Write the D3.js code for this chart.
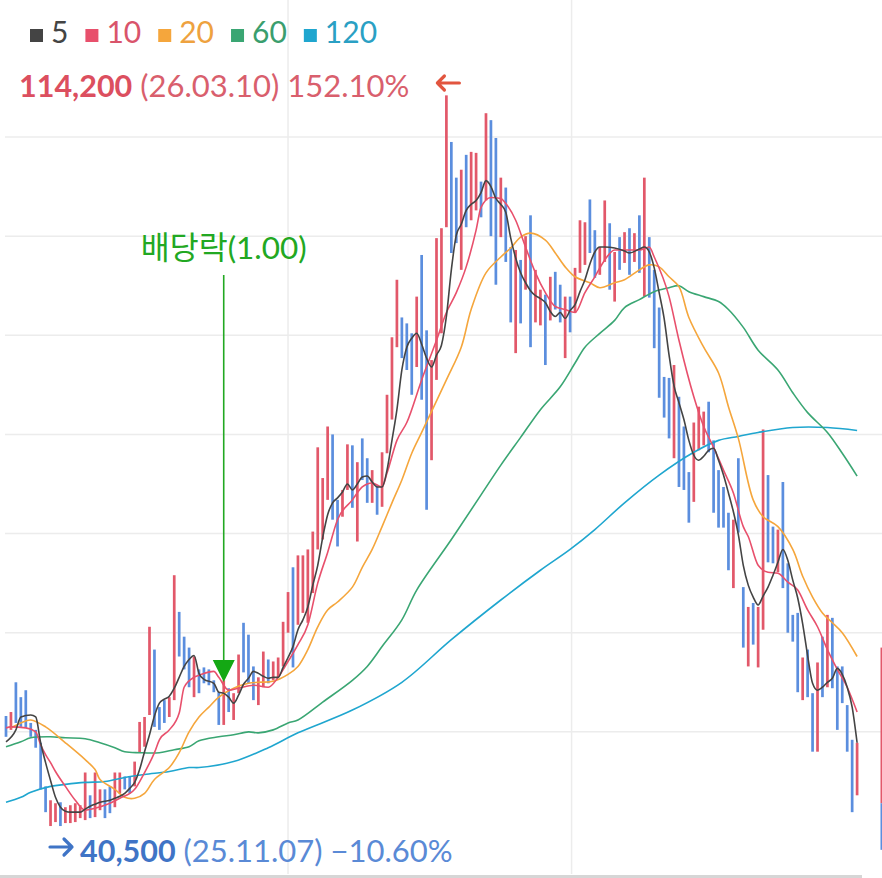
<!DOCTYPE html>
<html><head><meta charset="utf-8">
<script src="https://cdn.jsdelivr.net/npm/d3@7/dist/d3.min.js"></script>
<style>html,body{margin:0;padding:0;background:#fff;}svg{display:block;}</style>
</head><body>
<svg id="c" width="882" height="878"></svg>
<script>
// prices in thousands of won
const opens = [51.6,50.2,55.0,53.5,54.2,50.9,50.2,48.9,44.5,40.5,40.9,42.9,40.8,40.8,40.9,41.3,41.1,43.6,41.4,42.1,
44.2,44.5,42.4,43.8,45.5,45.5,44.5,47.9,48.5,51.7,58.3,52.5,53.2,51.5,53.2,62.1,59.6,58.5,53.5,56.3,
56.5,56.3,55.2,54.0,50.7,54.4,51.2,53.9,61.0,59.8,56.6,52.7,54.5,57.3,55.2,55.5,56.6,60.0,66.6,60.8,
62.0,61.0,64.0,68.4,69.4,73.4,80.0,73.4,71.7,74.4,78.9,69.2,79.6,77.6,73.1,74.9,72.7,78.1,81.5,88.8,
91.8,91.2,90.2,86.8,98.1,90.5,77.4,85.5,90.2,100.9,109.5,105.9,96.6,108.2,101.6,102.6,105.5,103.6,111.7,109.9,
99.9,104.9,98.9,88.2,97.6,94.6,102.1,91.3,91.0,94.1,91.5,96.4,95.1,87.7,93.9,92.3,96.3,97.1,103.7,100.6,
96.1,97.4,101.3,93.4,99.9,97.3,100.8,97.4,102.1,93.9,99.9,96.6,92.8,85.8,85.7,77.6,83.8,80.8,76.2,73.2,
78.4,78.9,83.3,79.4,76.4,74.7,72.1,64.5,77.6,64.6,56.6,63.0,56.5,60.3,75.9,70.7,66.1,75.2,67.0,61.8,
62.0,53.2,58.3,53.9,48.0,59.6,54.5,61.5,56.6,56.6,52.7,49.2,43.6];
const closes = [49.5,52.0,50.9,50.5,50.4,49.5,48.4,44.2,41.9,43.1,42.8,40.5,42.4,42.6,42.8,42.6,45.9,41.3,45.9,44.2,
41.3,41.8,45.9,45.9,44.2,43.8,47.0,51.0,51.5,60.6,50.5,50.2,50.9,53.5,65.8,57.6,56.3,54.5,57.6,53.9,
54.9,54.7,54.0,50.7,55.2,52.0,53.9,57.8,56.0,54.9,53.2,55.5,58.1,54.9,57.1,57.5,61.1,64.1,56.5,67.8,
67.8,68.4,70.2,78.7,75.6,80.8,71.4,68.7,74.4,79.0,72.6,77.2,75.4,73.1,76.4,71.9,78.2,84.0,89.8,95.6,
87.7,86.5,84.0,93.9,83.5,72.4,87.5,99.8,100.8,114.2,98.3,99.3,106.7,100.9,108.5,108.4,101.9,112.4,100.0,95.1,
105.9,97.4,91.3,98.6,91.2,100.0,88.8,96.6,94.6,87.0,95.9,92.6,91.3,93.9,90.3,96.8,101.6,101.4,98.3,95.8,
98.9,103.6,94.6,98.4,96.6,100.4,96.1,100.3,96.3,105.9,93.8,88.7,83.7,81.7,79.6,87.0,74.7,74.4,71.1,81.2,
82.8,82.3,78.2,72.1,70.6,70.6,66.3,71.4,70.1,58.5,62.6,58.8,62.6,80.5,67.1,67.0,70.4,64.5,60.0,59.1,
54.0,57.5,53.5,48.0,57.0,53.5,61.8,54.4,50.2,52.9,48.0,41.9,48.9];
// partially visible bar at the right edge [index, top, split, bottom]
const edgeBar = [177, 58.5, 42.8, 38.1];

const ma5 = [[0,49.0],[2,50.2],[3,51.5],[5,51.7],[6,51.5],[7,48.9],[8,46.9],[9,45.1],[10,43.4],[11,42.4],[12,42.0],[13,41.9],[15,41.9],[16,42.2],[17,42.5],[18,42.7],[19,42.9],[21,43.1],[22,43.3],[23,43.5],[24,43.8],[25,44.3],[26,44.9],[27,46.2],[28,48.0],[29,49.7],[30,51.6],[31,52.9],[32,53.3],[33,53.6],[34,54.4],[35,55.5],[36,56.6],[37,57.3],[38,57.7],[39,55.9],[40,55.3],[42,54.9],[43,54.0],[44,53.9],[45,53.5],[46,52.9],[47,53.7],[48,54.8],[49,55.4],[50,56.1],[51,55.9],[52,55.6],[53,55.4],[54,55.5],[55,55.5],[56,56.5],[57,57.5],[58,58.6],[59,60.3],[60,61.3],[61,62.6],[62,64.8],[63,66.8],[64,69.6],[65,71.9],[66,73.1],[67,73.6],[68,74.2],[69,75.0],[70,74.4],[71,75.0],[72,75.7],[73,75.8],[74,75.2],[75,74.7],[76,74.7],[77,76.4],[78,79.4],[79,82.5],[80,86.5],[81,88.8],[82,89.7],[83,90.2],[84,89.1],[85,87.7],[86,86.8],[87,88.0],[88,89.0],[89,91.9],[90,96.6],[91,100.1],[92,101.2],[93,102.6],[94,103.2],[95,103.6],[96,104.4],[97,105.6],[98,105.0],[99,103.8],[100,103.2],[101,102.4],[102,99.8],[103,97.8],[104,96.3],[105,95.3],[106,94.5],[107,94.0],[108,93.7],[109,93.3],[110,92.4],[111,91.9],[112,92.3],[113,91.7],[114,92.5],[115,93.1],[116,94.4],[117,95.6],[118,97.2],[119,98.4],[120,98.9],[121,98.9],[123,98.8],[125,98.5],[126,98.3],[128,98.7],[129,98.9],[130,98.4],[131,96.8],[132,94.3],[133,91.7],[134,88.0],[135,84.9],[136,83.2],[137,81.5],[138,79.4],[139,77.9],[140,77.4],[141,77.8],[142,78.4],[143,78.6],[144,77.4],[145,75.9],[146,74.1],[147,72.2],[148,69.9],[149,66.8],[150,64.8],[151,63.6],[152,62.8],[153,63.7],[154,64.6],[155,65.8],[156,67.1],[157,68.4],[158,67.3],[159,65.3],[160,63.5],[161,60.9],[162,57.7],[163,54.9],[164,54.2],[165,54.5],[166,55.0],[167,55.4],[168,56.4],[169,55.8],[170,54.5],[171,52.5],[172,48.9]];
const ma10 = [[0,50.4],[1,50.5],[4,50.4],[6,50.0],[7,48.7],[8,47.7],[9,46.9],[10,46.0],[12,44.5],[14,43.1],[16,42.1],[18,42.3],[21,42.8],[23,43.3],[26,44.2],[28,45.9],[30,47.9],[31,49.2],[33,50.2],[35,51.9],[36,54.5],[38,55.5],[39,55.7],[42,56.1],[43,55.5],[45,54.2],[47,54.4],[50,54.7],[53,54.5],[55,55.5],[57,57.1],[59,58.8],[61,60.8],[63,65.0],[65,68.1],[67,71.4],[70,73.4],[72,74.7],[74,75.1],[76,74.7],[77,76.1],[79,79.4],[81,81.2],[84,85.5],[87,89.5],[89,92.3],[91,94.3],[93,96.9],[95,100.6],[96,102.9],[98,103.9],[100,103.8],[101,103.3],[103,101.6],[105,98.9],[107,96.3],[109,94.3],[111,92.9],[113,92.6],[115,92.3],[117,94.3],[119,95.9],[121,97.6],[123,98.6],[125,98.6],[128,98.6],[130,98.9],[131,97.9],[134,93.9],[136,89.5],[139,83.8],[141,80.8],[143,78.7],[145,76.4],[147,74.1],[149,70.7],[150,69.7],[152,66.8],[154,66.1],[156,66.0],[158,65.1],[160,64.3],[162,62.3],[164,60.6],[166,58.3],[168,56.3],[170,54.5],[172,52.0]];
const ma20 = [[1,50.4],[3,50.9],[5,51.2],[8,50.5],[12,48.9],[16,47.2],[18,46.2],[19,45.2],[22,44.2],[24,43.4],[26,43.3],[28,43.8],[30,45.2],[33,46.4],[35,47.9],[37,50.0],[39,51.5],[41,52.5],[43,53.5],[46,54.4],[49,54.9],[51,55.0],[54,55.1],[57,55.8],[59,56.6],[61,58.3],[63,60.6],[65,62.3],[67,63.1],[70,64.6],[72,66.6],[74,68.4],[76,70.7],[78,73.1],[80,75.4],[82,78.1],[84,80.2],[89,85.5],[92,88.8],[94,92.6],[97,96.3],[100,97.9],[102,98.8],[104,99.9],[106,100.3],[109,99.6],[111,98.3],[113,96.9],[115,95.9],[118,95.3],[120,94.8],[123,95.3],[125,95.6],[128,96.6],[130,97.1],[132,96.9],[134,95.9],[136,94.9],[138,91.8],[141,88.8],[144,86.2],[146,82.8],[148,79.6],[151,73.4],[153,71.7],[156,70.7],[159,68.4],[161,65.7],[163,63.6],[165,62.0],[167,61.0],[169,60.0],[172,57.6]];
const ma60 = [[0,48.5],[3,49.0],[5,49.4],[9,49.5],[12,49.4],[16,49.3],[19,48.9],[22,48.4],[24,48.0],[27,47.9],[31,47.9],[34,48.2],[37,48.5],[39,49.1],[43,49.5],[46,49.7],[49,50.0],[51,49.9],[54,50.2],[57,50.9],[59,51.2],[64,53.0],[70,55.2],[73,56.6],[76,58.6],[80,61.3],[83,64.3],[90,69.4],[96,73.9],[100,76.9],[104,79.7],[108,82.5],[112,84.8],[115,87.2],[117,88.8],[120,90.2],[123,91.5],[125,92.8],[128,93.6],[131,94.4],[134,94.8],[136,95.0],[138,94.4],[141,93.9],[144,93.4],[146,92.6],[149,90.8],[152,88.5],[156,86.5],[159,84.2],[162,82.2],[166,80.2],[169,78.1],[172,75.8]];
const ma120 = [[0,42.9],[3,43.4],[5,43.9],[9,44.5],[12,44.7],[16,44.9],[20,45.0],[24,45.4],[28,45.7],[33,46.0],[37,46.4],[39,46.4],[46,47.0],[53,48.4],[59,49.9],[70,52.2],[80,55.0],[90,59.3],[100,63.3],[108,66.3],[114,68.4],[119,70.4],[125,73.1],[132,75.9],[139,78.2],[144,79.4],[148,79.8],[152,80.2],[159,80.7],[166,80.7],[172,80.4]];

const maNames = ["5","10","20","60","120"];
const maSeries = [ma5, ma10, ma20, ma60, ma120];
const maColors = ["#444444","#e8506c","#f5a63c","#3aa673","#1fa6cf"];
const maText = ["#444444","#d9546b","#eea23f","#3a9e6e","#2aa0c4"];
const gridPrices = [50,60,70,80,90,100,110];
const gridIdx = [57, 114.3];
const dividendIdx = 44;       // 배당락 marker position
const dividendLabel = "배당락(1.00)";
const refClose = 45.3;        // base price for % labels
const maxDate = "26.03.10", minDate = "25.11.07";

const svg = d3.select("#c");
const x = d3.scaleLinear().domain([0,172]).range([6,857.1]);
const y = d3.scaleLinear().domain([40,110]).range([831,137]);

// grid
svg.append("g").selectAll("line").data(gridPrices).join("line")
  .attr("x1",5).attr("x2",882).attr("y1",d=>y(d)).attr("y2",d=>y(d))
  .attr("stroke","#ececec").attr("stroke-width",1.5);
svg.append("g").selectAll("line").data(gridIdx).join("line")
  .attr("x1",d=>x(d)).attr("x2",d=>x(d)).attr("y1",0).attr("y2",874)
  .attr("stroke","#ececec").attr("stroke-width",1.5);

// candles
const up = "#e2586a", down = "#5b8ede";
svg.append("g").selectAll("rect").data(opens.map((o,i)=>({i,o,c:closes[i]}))).join("rect")
  .attr("x",d=>x(d.i)-1.35).attr("width",2.7)
  .attr("y",d=>y(Math.max(d.o,d.c))).attr("height",d=>Math.max(1,Math.abs(y(d.o)-y(d.c))))
  .attr("fill",d=>d.c>=d.o?up:down);
// edge bar
svg.append("rect").attr("x",x(edgeBar[0])-1.35).attr("width",2.7)
  .attr("y",y(edgeBar[1])).attr("height",y(edgeBar[2])-y(edgeBar[1])).attr("fill",up);
svg.append("rect").attr("x",x(edgeBar[0])-1.35).attr("width",2.7)
  .attr("y",y(edgeBar[2])).attr("height",y(edgeBar[3])-y(edgeBar[2])).attr("fill",down);

// moving averages
const lineM = d3.line().x(d=>x(d[0])).y(d=>y(d[1])).curve(d3.curveMonotoneX);
const lineS = d3.line().x(d=>x(d[0])).y(d=>y(d[1])).curve(d3.curveCatmullRom.alpha(0.5));
svg.append("g").selectAll("path").data(maSeries.map((s,i)=>({s,i})).reverse()).join("path")
  .attr("d",d=>(d.i<2?lineM:lineS)(d.s)).attr("fill","none")
  .attr("stroke",d=>maColors[d.i]).attr("stroke-width",1.6);

// legend
const lg = svg.append("g").attr("font-family","Lato, 'Noto Sans'").attr("font-size",30);
let lx = 30;
maNames.forEach((n,i)=>{
  lg.append("rect").attr("x",lx).attr("y",29).attr("width",13).attr("height",13).attr("fill",maColors[i]);
  const t = lg.append("text").attr("x",lx+21).attr("y",43).attr("fill",maText[i]).text(n);
  lx += 21 + t.node().getComputedTextLength() + 17;
});

// max label
const fmt = d3.format(",");
const maxV = d3.max(closes.concat(opens));
const minV = d3.min(closes.concat(opens));
const pct = v => d3.format(".2f")((v/refClose-1)*100) + "%";
const t1 = svg.append("text").attr("x",19).attr("y",97).attr("font-family","Lato, 'Noto Sans'").attr("font-size",30.5);
t1.append("tspan").attr("font-weight","bold").attr("fill","#dc4f5f").text(fmt(Math.round(maxV*1000)));
t1.append("tspan").attr("fill","#d95f6d").attr("font-size",31).text(" ("+maxDate+") "+pct(maxV));
// arrow near max
const ax = x(89), ay = 83;
svg.append("path").attr("d",`M${ax-9},${ay}H${ax+13}M${ax-2},${ay-7}L${ax-9},${ay}L${ax-2},${ay+7}`)
  .attr("fill","none").attr("stroke","#e2553f").attr("stroke-width",3.2).attr("stroke-linecap","round").attr("stroke-linejoin","round");

// min label
const t2 = svg.append("text").attr("x",80).attr("y",862).attr("font-family","Lato, 'Noto Sans'").attr("font-size",30.5);
t2.append("tspan").attr("font-weight","bold").attr("fill","#3f74c6").text(fmt(Math.round(minV*1000)));
t2.append("tspan").attr("fill","#5a8ad6").attr("font-size",31).text(" ("+minDate+") "+pct(minV));
svg.append("path").attr("d","M50,847H72M64,839L72,847L64,855")
  .attr("fill","none").attr("stroke","#3f74c6").attr("stroke-width",3.2).attr("stroke-linecap","round").attr("stroke-linejoin","round");

// dividend marker
const dx = x(dividendIdx);
svg.append("text").attr("x",dx).attr("y",259).attr("text-anchor","middle")
  .attr("font-family","Lato, 'Noto Sans CJK KR'").attr("font-size",31.5).attr("fill","#22a822").text(dividendLabel);
svg.append("line").attr("x1",dx).attr("x2",dx).attr("y1",275).attr("y2",662).attr("stroke","#22a822").attr("stroke-width",1.6);
svg.append("path").attr("d",`M${dx-11},660L${dx+11},660L${dx},682Z`).attr("fill","#14a814");

// bottom bar
svg.append("rect").attr("x",0).attr("y",875).attr("width",862).attr("height",3).attr("fill","#d6d6d6");
</script>
</body></html>
